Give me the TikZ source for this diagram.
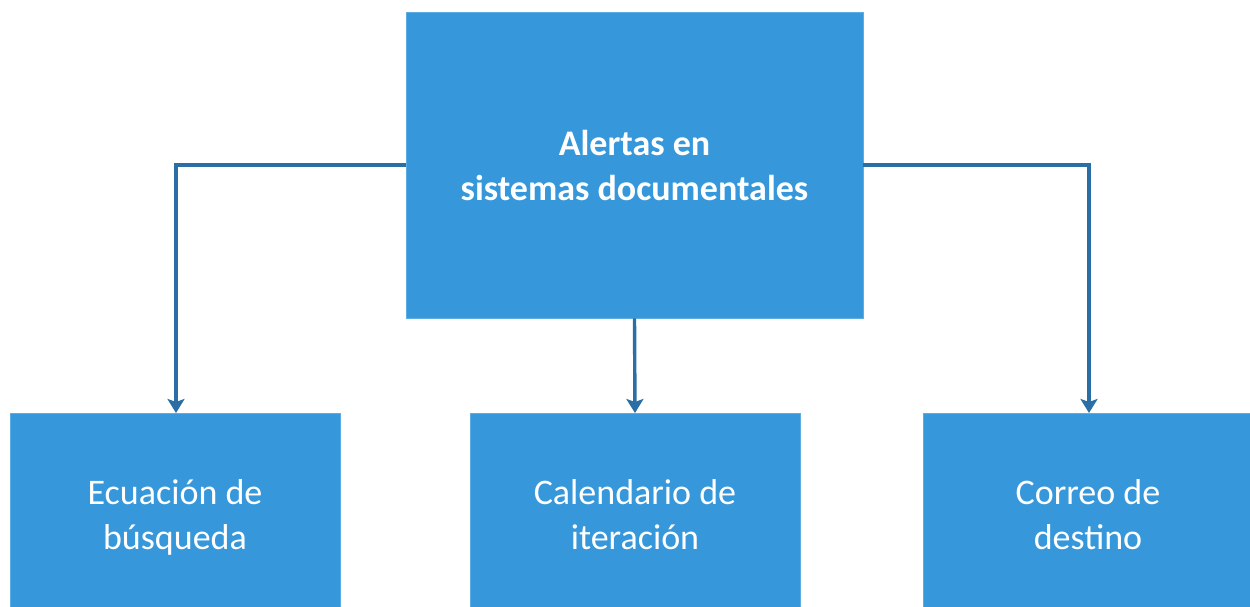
\documentclass[tikz,border=0pt]{standalone}
\usepackage{fontspec}
\setmainfont{Carlito}
\usetikzlibrary{arrows.meta}
\definecolor{boxblue}{HTML}{3698DB}
\definecolor{lineblue}{HTML}{2B6EA6}
\begin{document}
\begin{tikzpicture}[x=1pt,y=-1pt,
  boxstyle/.style={fill=boxblue, draw=boxblue!80!white, line width=0.6pt, inner sep=0pt},
  txt/.style={text=white, align=center, font=\fontsize{36}{45}\selectfont},
  conn/.style={draw=lineblue, line width=3.4pt, -{Stealth[length=14pt,width=17pt,inset=3pt]}}]
\useasboundingbox (0,0) rectangle (1250,607);
\begin{scope}
\clip (0,0) rectangle (1250,607);
\node[boxstyle, minimum width=457pt, minimum height=306pt] (top) at (634.5,165) {};
\node[boxstyle, minimum width=330pt, minimum height=220pt] (b1) at (175,523) {};
\node[boxstyle, minimum width=330pt, minimum height=220pt] (b2) at (635,523) {};
\node[boxstyle, minimum width=330pt, minimum height=220pt] (b3) at (1088,523) {};
\end{scope}
\node[txt, font=\bfseries\fontsize{36}{45}\selectfont] (ttop) at (634.5,166) {Alertas en\\sistemas documentales};
\node[txt] (t1) at (175,517) {Ecuación de\\búsqueda};
\node[txt] (t2) at (635,515) {Calendario de\\iteración};
\node[txt] (t3) at (1088,515) {Correo de\\destino};
\coordinate (c1) at (176,165);
\coordinate (c3) at (1089,165);
\draw[conn] (top.west) -- (c1) -- (176,413);
\draw[conn] (top.south) -- (635,413);
\draw[conn] (top.east) -- (c3) -- (1089,413);
\end{tikzpicture}
\end{document}
